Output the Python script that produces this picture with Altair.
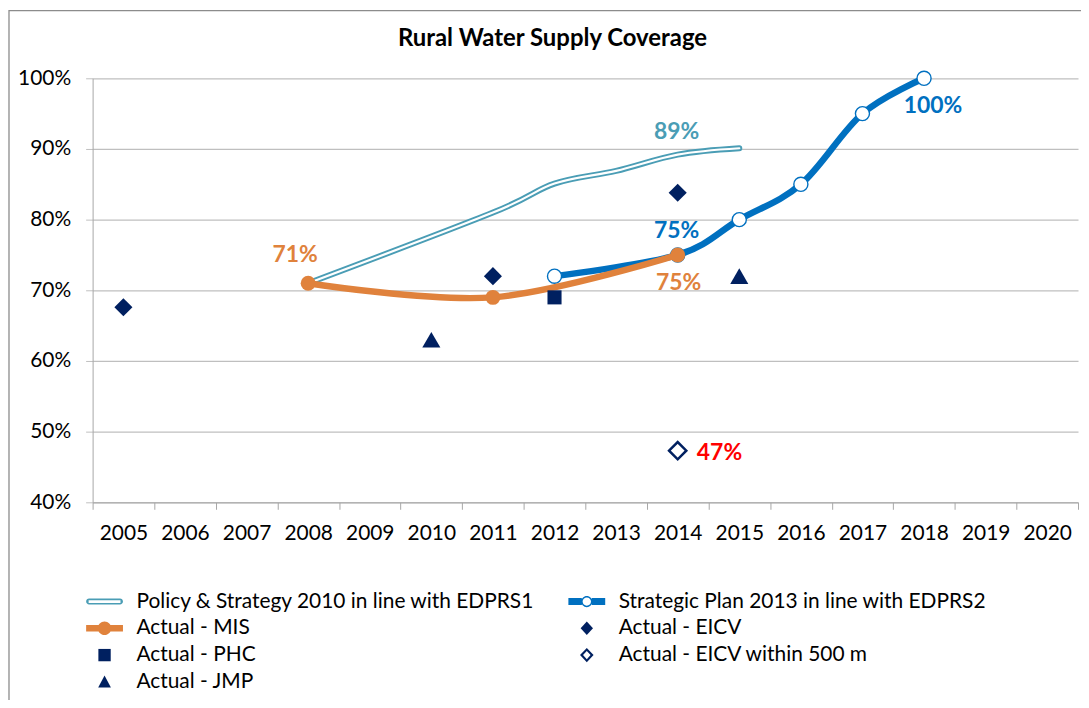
import altair as alt
import pandas as pd

# ---------------- data ----------------
years = [str(y) for y in range(2005, 2021)]

policy_years = ["2008", "2011", "2012", "2013", "2014", "2015"]
policy_vals = [0.71, 0.81, 0.851, 0.869, 0.892, 0.901]

plan_years = ["2012", "2014", "2015", "2016", "2017", "2018"]
plan_vals = [0.72, 0.75, 0.80, 0.85, 0.95, 1.00]

mis_years = ["2008", "2011", "2014"]
mis_vals = [0.71, 0.69, 0.75]

eicv_years = ["2005", "2011", "2014"]
eicv_vals = [0.676, 0.72, 0.838]

phc_years = ["2012"]
phc_vals = [0.69]

jmp_years = ["2010", "2015"]
jmp_vals = [0.63, 0.72]

eicv500_years = ["2014"]
eicv500_vals = [0.473]

series_names = [
    "Policy & Strategy 2010 in line with EDPRS1",
    "Strategic Plan 2013 in line with EDPRS2",
    "Actual - MIS",
    "Actual - EICV",
    "Actual - PHC",
    "Actual - EICV within 500 m",
    "Actual - JMP",
]

y_ticks = [0.4, 0.5, 0.6, 0.7, 0.8, 0.9, 1.0]

# ---------------- style ----------------
TEAL = "#4A9DB5"
BLUE = "#0070C0"
ORANGE = "#E0823C"
NAVY = "#002060"
RED = "#FF0000"
FONT = "Lato"

series_colors = [TEAL, BLUE, ORANGE, NAVY, NAVY, NAVY, NAVY]
series_paths = [
    # double line
    "M-1.55,-0.3 H1.55 A0.3,0.3 0 0 1 1.55,0.3 H-1.55 A0.3,0.3 0 0 1 -1.55,-0.3 Z "
    "M-1.6,-0.14 V0.14 H1.6 V-0.14 Z",
    # thick line with open circle
    "M-1.85,-0.35 H-0.5 V0.35 H-1.85 Z M0.5,-0.35 H1.85 V0.35 H0.5 Z "
    "M0.56,0 A0.56,0.56 0 1 1 -0.56,0 A0.56,0.56 0 1 1 0.56,0 Z "
    "M0.42,0 A0.42,0.42 0 1 0 -0.42,0 A0.42,0.42 0 1 0 0.42,0 Z",
    # thick line with filled circle
    "M-1.85,-0.33 H1.85 V0.33 H-1.85 Z "
    "M0.68,0 A0.68,0.68 0 1 1 -0.68,0 A0.68,0.68 0 1 1 0.68,0 Z",
    # filled diamond
    "M0,-0.68 L0.62,0 L0,0.68 L-0.62,0 Z",
    # square
    "M-0.62,-0.62 H0.62 V0.62 H-0.62 Z",
    # open diamond
    "M0,-0.72 L0.68,0 L0,0.72 L-0.68,0 Z M0,-0.42 L-0.38,0 L0,0.42 L0.38,0 Z",
    # triangle
    "M0,-0.66 L0.64,0.56 L-0.64,0.56 Z",
]


def df(yrs, vals):
    return pd.DataFrame({"year": yrs, "value": vals})


x_enc = alt.X(
    "year:O",
    scale=alt.Scale(type="band", domain=years, paddingInner=0, paddingOuter=0),
    axis=alt.Axis(
        title=None,
        labelAngle=0,
        tickBand="extent",
        tickSize=7,
        tickColor="#A6A6A6",
        domainColor="#A6A6A6",
        labelFont=FONT,
        labelFontSize=21,
        labelColor="#000000",
        labelPadding=13,
        grid=False,
    ),
)
y_enc = alt.Y(
    "value:Q",
    scale=alt.Scale(domain=[0.4, 1.0], nice=False, zero=False),
    axis=alt.Axis(
        title=None,
        values=y_ticks,
        format=".0%",
        grid=True,
        gridColor="#BFBFBF",
        gridWidth=1.2,
        tickSize=7,
        tickColor="#BFBFBF",
        domainColor="#A6A6A6",
        labelFont=FONT,
        labelFontSize=21,
        labelColor="#000000",
        labelPadding=15,
    ),
)

# chart frame
frame = alt.Chart(pd.DataFrame({"f": [1]})).mark_rect(
    fillOpacity=0, stroke="#8C8C8C", strokeWidth=1.3
).encode(x=alt.value(-84), x2=alt.value(1400), y=alt.value(-68), y2=alt.value(900))

policy_outer = alt.Chart(df(policy_years, policy_vals)).mark_line(
    color=TEAL, strokeWidth=6, interpolate="cardinal", strokeCap="round"
).encode(x=x_enc, y=y_enc)
policy_inner = alt.Chart(df(policy_years, policy_vals)).mark_line(
    color="white", strokeWidth=2.2, interpolate="cardinal", strokeCap="round"
).encode(x=x_enc, y=y_enc)

plan_line = alt.Chart(df(plan_years, plan_vals)).mark_line(
    color=BLUE, strokeWidth=6.5, interpolate="cardinal", strokeCap="round"
).encode(x=x_enc, y=y_enc)
plan_pts = alt.Chart(df(plan_years, plan_vals)).mark_point(
    shape="circle", size=200, fill="white", fillOpacity=1, stroke=BLUE, strokeWidth=1.4, opacity=1
).encode(x=x_enc, y=y_enc)

mis_line = alt.Chart(df(mis_years, mis_vals)).mark_line(
    color=ORANGE, strokeWidth=6.5, interpolate="cardinal", strokeCap="round"
).encode(x=x_enc, y=y_enc)
mis_pts = alt.Chart(df(mis_years, mis_vals)).mark_point(
    shape="circle", size=225, filled=True, color=ORANGE, opacity=1
).encode(x=x_enc, y=y_enc)

eicv_pts = alt.Chart(df(eicv_years, eicv_vals)).mark_point(
    shape="diamond", size=330, filled=True, color=NAVY, opacity=1
).encode(x=x_enc, y=y_enc)
phc_pts = alt.Chart(df(phc_years, phc_vals)).mark_point(
    shape="square", size=200, filled=True, color=NAVY, opacity=1
).encode(x=x_enc, y=y_enc)
jmp_pts = alt.Chart(df(jmp_years, jmp_vals)).mark_point(
    shape="triangle-up", size=330, filled=True, color=NAVY, opacity=1
).encode(x=x_enc, y=y_enc)
eicv500_pts = alt.Chart(df(eicv500_years, eicv500_vals)).mark_point(
    shape="diamond", size=300, fill="white", fillOpacity=1, stroke=NAVY, strokeWidth=2.5, opacity=1
).encode(x=x_enc, y=y_enc)


def label(yr, val, color, dx, dy):
    d = pd.DataFrame({"year": [yr], "value": [val], "text": [f"{round(val * 100)}%"]})
    return alt.Chart(d).mark_text(
        font=FONT, fontSize=23, fontWeight="bold", color=color, dx=dx, dy=dy, baseline="middle"
    ).encode(x=x_enc, y=y_enc, text="text:N")


labels = [
    label(mis_years[0], mis_vals[0], ORANGE, -13, -28),
    label(mis_years[2], mis_vals[2], ORANGE, 1, 28),
    label(policy_years[4], policy_vals[4], TEAL, -1, -23),
    label(plan_years[1], plan_vals[1], BLUE, -1, -24),
    label(plan_years[5], plan_vals[5], BLUE, 9, 28),
    label(eicv500_years[0], eicv500_vals[0], RED, 42, 2),
]

leg_props = dict(
    title=None,
    orient="none",
    direction="horizontal",
    legendX=1.5,
    legendY=515,
    columns=2,
    columnPadding=33.5,
    rowPadding=5,
    padding=0,
    symbolSize=400,
    symbolStrokeWidth=0,
    symbolOpacity=1,
    labelFont=FONT,
    labelFontSize=21,
    labelColor="#000000",
    labelOffset=21.5,
    labelLimit=700,
)
# legend entries: marks placed below the y domain and clipped away, only the legend shows
legend_df = pd.DataFrame({"series": series_names, "year": ["2005"] * 7, "value": [0.2] * 7})
legend_layer = alt.Chart(legend_df).mark_point(filled=True, clip=True, opacity=1).encode(
    x=x_enc,
    y=y_enc,
    color=alt.Color("series:N", scale=alt.Scale(domain=series_names, range=series_colors),
                    legend=alt.Legend(**leg_props)),
    shape=alt.Shape("series:N", scale=alt.Scale(domain=series_names, range=series_paths),
                    legend=alt.Legend(**leg_props)),
)

chart = alt.layer(
    frame,
    policy_outer,
    policy_inner,
    plan_line,
    plan_pts,
    mis_line,
    mis_pts,
    eicv_pts,
    phc_pts,
    jmp_pts,
    eicv500_pts,
    *labels,
    legend_layer,
).properties(
    width=990,
    height=426,
    padding={"left": 85, "top": 69, "right": 3, "bottom": 197},
    autosize=alt.AutoSizeParams(type="none"),
    title=alt.TitleParams(
        "Rural Water Supply Coverage",
        font=FONT,
        fontSize=24,
        fontWeight="bold",
        color="#000000",
        anchor="middle",
        frame="group",
        dx=-33,
        offset=-41,
    ),
).configure_view(strokeWidth=0)

chart.save("out.html", embed_options={"renderer": "svg", "actions": False})
